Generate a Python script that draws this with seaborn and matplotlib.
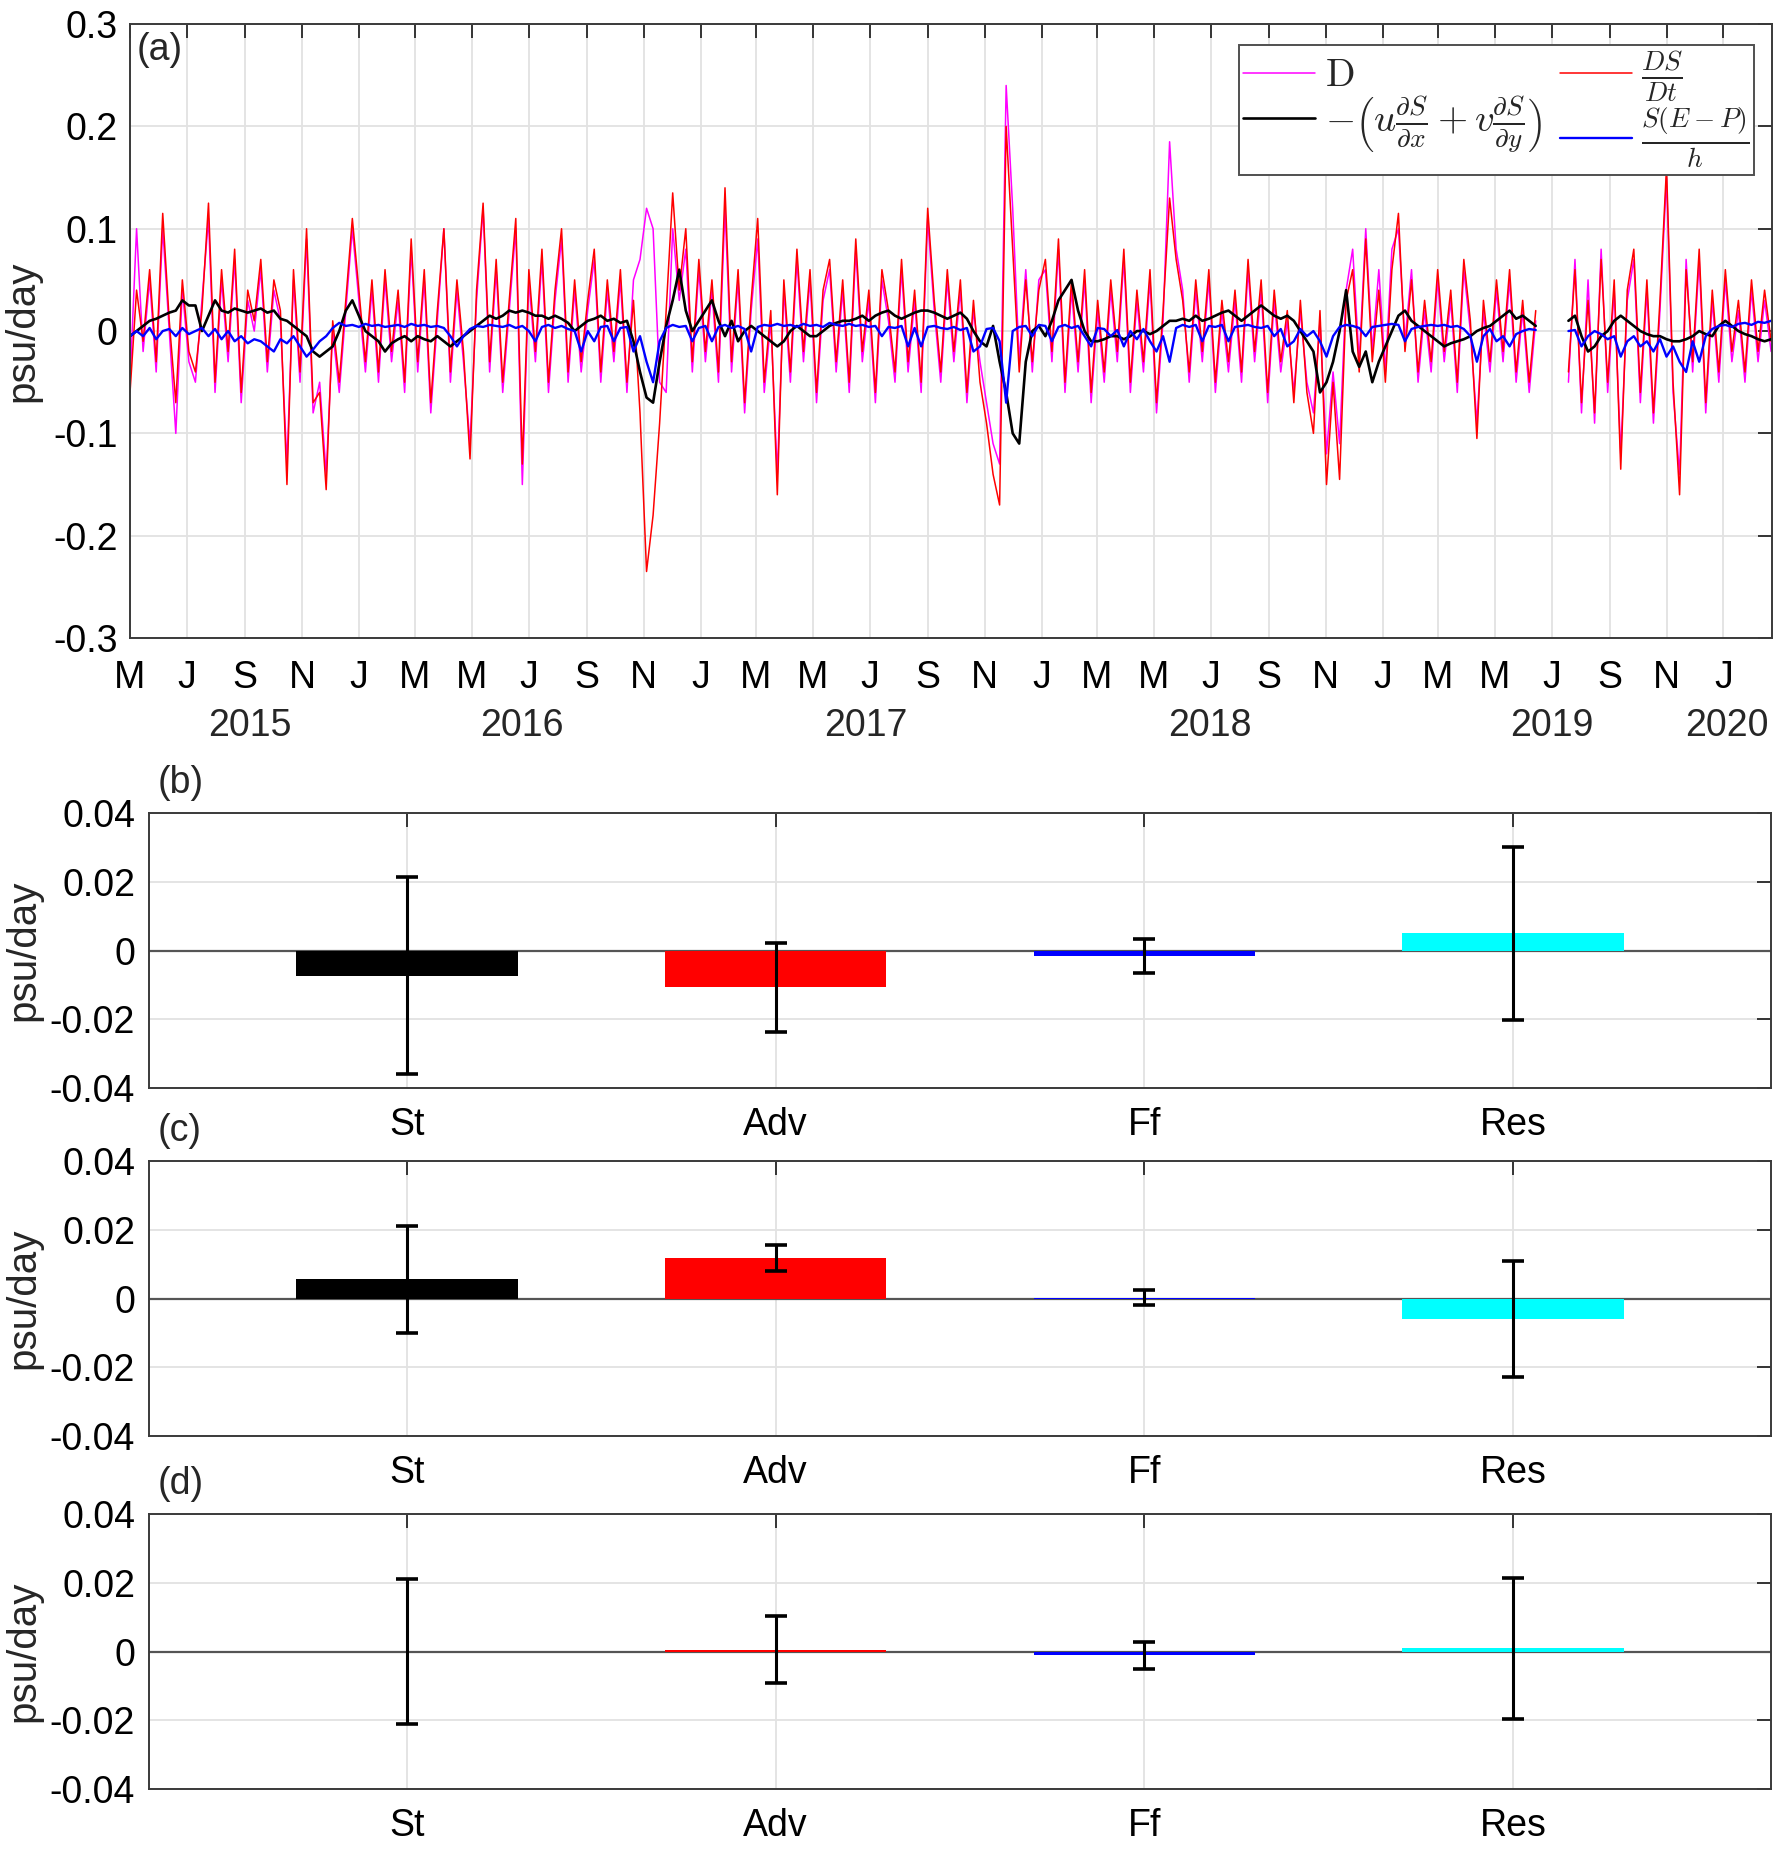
import numpy as np
import pandas as pd
import matplotlib
matplotlib.use('Agg')
import matplotlib.pyplot as plt
import matplotlib.dates as mdates
import matplotlib.transforms as mtransforms
import seaborn as sns

nan = np.nan

# ---- panel (a): weekly values (psu/day), from 2015-05-01 ----
# gap in the record around June-July 2019 is kept as NaN
dsdt = [
    -0.06, 0.04, -0.01, 0.06, -0.03, 0.115, 0.01, -0.07, 0.05, -0.02,
    -0.04, 0.02, 0.125, -0.05, 0.06, -0.02, 0.08, -0.06, 0.04, 0.01,
    0.07, -0.03, 0.05, 0.02, -0.15, 0.06, -0.04, 0.1, -0.07, -0.06,
    -0.155, 0.01, -0.05, 0.03, 0.11, 0.04, -0.03, 0.05, -0.04, 0.06,
    -0.02, 0.04, -0.05, 0.09, -0.03, 0.06, -0.07, 0.02, 0.1, -0.04,
    0.05, -0.02, -0.125, 0.04, 0.125, -0.03, 0.07, -0.05, 0.03, 0.11,
    -0.13, 0.06, -0.02, 0.08, -0.05, 0.04, 0.1, -0.04, 0.05, -0.03,
    0.03, 0.08, -0.04, 0.05, -0.02, 0.06, -0.05, 0.03, -0.08, -0.235,
    -0.18, -0.09, 0.02, 0.135, 0.04, 0.1, -0.03, 0.07, -0.02, 0.05,
    -0.04, 0.14, -0.03, 0.06, -0.07, 0.03, 0.11, -0.05, 0.02, -0.16,
    0.05, -0.04, 0.08, -0.02, 0.06, -0.06, 0.04, 0.07, -0.03, 0.05,
    -0.05, 0.09, -0.02, 0.04, -0.06, 0.06, 0.02, -0.04, 0.07, -0.03,
    0.04, -0.05, 0.12, 0.03, -0.04, 0.06, -0.02, 0.05, -0.06, 0.03,
    -0.05, -0.09, -0.14, -0.17, 0.2, 0.08, -0.04, 0.05, -0.03, 0.04,
    0.07, -0.02, 0.09, -0.05, 0.05, -0.03, 0.06, -0.06, 0.03, -0.04,
    0.05, -0.02, 0.08, -0.05, 0.04, -0.03, 0.06, -0.07, 0.02, 0.13,
    0.07, 0.03, -0.04, 0.05, -0.02, 0.06, -0.05, 0.03, -0.03, 0.04,
    -0.04, 0.07, -0.02, 0.05, -0.06, 0.04, -0.03, 0.02, -0.07, 0.03,
    -0.06, -0.1, 0.02, -0.15, -0.05, -0.145, 0.03, 0.06, -0.04, 0.09,
    -0.03, 0.04, -0.05, 0.06, 0.115, -0.02, 0.05, -0.04, 0.03, -0.03,
    0.06, -0.02, 0.04, -0.05, 0.07, 0.01, -0.105, 0.03, -0.03, 0.05,
    -0.02, 0.06, -0.04, 0.03, -0.05, 0.02, nan, nan, nan, nan,
    -0.04, 0.06, -0.07, 0.03, -0.08, 0.07, -0.05, 0.05, -0.135, 0.04,
    0.08, -0.06, 0.05, -0.08, 0.03, 0.16, -0.05, -0.16, 0.06, -0.03,
    0.08, -0.07, 0.04, -0.04, 0.06, -0.02, 0.03, -0.04, 0.05, -0.02,
    0.04, -0.01,
]

d_term = [
    -0.05, 0.1, -0.02, 0.05, -0.04, 0.1, 0.0, -0.1, 0.04, -0.03,
    -0.05, 0.03, 0.11, -0.06, 0.05, -0.03, 0.07, -0.07, 0.03, 0.0,
    0.06, -0.04, 0.04, 0.01, -0.13, 0.05, -0.05, 0.09, -0.08, -0.05,
    -0.14, 0.0, -0.06, 0.02, 0.1, 0.03, -0.04, 0.04, -0.05, 0.05,
    -0.03, 0.03, -0.06, 0.08, -0.04, 0.05, -0.08, 0.01, 0.1, -0.05,
    0.04, -0.03, -0.11, 0.03, 0.12, -0.04, 0.06, -0.06, 0.02, 0.1,
    -0.15, 0.05, -0.03, 0.07, -0.06, 0.03, 0.09, -0.05, 0.04, -0.04,
    0.02, 0.07, -0.05, 0.04, -0.03, 0.05, -0.06, 0.05, 0.07, 0.12,
    0.1, -0.05, -0.06, 0.1, 0.03, 0.08, -0.04, 0.06, -0.03, 0.04,
    -0.05, 0.12, -0.04, 0.05, -0.08, 0.02, 0.09, -0.06, 0.01, -0.14,
    0.04, -0.05, 0.07, -0.03, 0.05, -0.07, 0.03, 0.06, -0.04, 0.04,
    -0.06, 0.08, -0.03, 0.03, -0.07, 0.05, 0.01, -0.05, 0.06, -0.04,
    0.03, -0.06, 0.11, 0.02, -0.05, 0.05, -0.03, 0.04, -0.07, 0.02,
    -0.03, -0.07, -0.11, -0.13, 0.24, 0.12, -0.03, 0.06, -0.04, 0.05,
    0.06, -0.03, 0.08, -0.06, 0.04, -0.04, 0.05, -0.07, 0.02, -0.05,
    0.04, -0.03, 0.07, -0.06, 0.03, -0.04, 0.05, -0.08, 0.01, 0.185,
    0.08, 0.04, -0.05, 0.04, -0.03, 0.05, -0.06, 0.02, -0.04, 0.03,
    -0.05, 0.06, -0.03, 0.04, -0.07, 0.03, -0.04, 0.01, -0.06, 0.02,
    -0.05, -0.08, 0.01, -0.12, -0.04, -0.11, 0.04, 0.08, -0.03, 0.1,
    -0.02, 0.06, -0.04, 0.08, 0.1, -0.01, 0.06, -0.05, 0.02, -0.04,
    0.05, -0.03, 0.03, -0.06, 0.06, 0.0, -0.09, 0.02, -0.04, 0.04,
    -0.03, 0.05, -0.05, 0.02, -0.06, 0.01, nan, nan, nan, nan,
    -0.05, 0.07, -0.08, 0.05, -0.09, 0.08, -0.06, 0.04, -0.12, 0.03,
    0.07, -0.07, 0.04, -0.09, 0.02, 0.15, -0.06, -0.14, 0.07, -0.04,
    0.07, -0.08, 0.03, -0.05, 0.05, -0.03, 0.02, -0.05, 0.04, -0.03,
    0.03, -0.02,
]

adv = [
    -0.005, 0.0, 0.005, 0.01, 0.012, 0.015, 0.018, 0.02, 0.03, 0.025,
    0.025, 0.0, 0.015, 0.03, 0.02, 0.018, 0.022, 0.02, 0.018, 0.02,
    0.022, 0.018, 0.02, 0.012, 0.01, 0.005, 0.0, -0.005, -0.02, -0.025,
    -0.02, -0.015, 0.0, 0.02, 0.03, 0.015, 0.0, -0.005, -0.01, -0.02,
    -0.012, -0.008, -0.005, -0.01, -0.005, -0.008, -0.01, -0.005, -0.01, -0.015,
    -0.01, -0.005, 0.0, 0.005, 0.01, 0.015, 0.012, 0.015, 0.02, 0.018,
    0.02, 0.018, 0.015, 0.015, 0.012, 0.015, 0.012, 0.008, 0.0, 0.005,
    0.01, 0.012, 0.015, 0.01, 0.012, 0.008, 0.01, -0.01, -0.04, -0.065,
    -0.07, -0.03, 0.005, 0.03, 0.06, 0.02, 0.0, 0.01, 0.02, 0.03,
    0.01, -0.005, 0.01, -0.01, 0.0, 0.005, 0.0, -0.005, -0.01, -0.015,
    -0.01, 0.0, 0.005, 0.0, -0.005, -0.005, 0.0, 0.005, 0.008, 0.01,
    0.01, 0.012, 0.015, 0.01, 0.015, 0.018, 0.02, 0.015, 0.012, 0.015,
    0.018, 0.02, 0.02, 0.018, 0.015, 0.012, 0.015, 0.018, 0.012, 0.0,
    -0.01, -0.015, 0.005, -0.03, -0.06, -0.1, -0.11, -0.03, 0.0, 0.005,
    -0.005, 0.01, 0.03, 0.04, 0.05, 0.02, 0.0, -0.01, -0.01, -0.008,
    -0.005, -0.005, -0.008, -0.005, 0.0, 0.0, -0.003, 0.0, 0.005, 0.01,
    0.01, 0.012, 0.01, 0.015, 0.01, 0.012, 0.015, 0.018, 0.02, 0.015,
    0.01, 0.015, 0.02, 0.025, 0.02, 0.015, 0.012, 0.015, 0.01, 0.0,
    -0.01, -0.02, -0.06, -0.05, -0.03, 0.0, 0.04, -0.02, -0.035, -0.02,
    -0.05, -0.03, -0.015, 0.0, 0.015, 0.02, 0.01, 0.005, 0.0, -0.005,
    -0.01, -0.015, -0.012, -0.01, -0.008, -0.005, 0.0, 0.003, 0.005, 0.01,
    0.015, 0.02, 0.012, 0.015, 0.01, 0.005, nan, nan, nan, nan,
    0.01, 0.015, -0.005, -0.02, -0.015, -0.005, 0.0, 0.01, 0.015, 0.01,
    0.005, 0.0, -0.003, -0.005, -0.005, -0.008, -0.01, -0.01, -0.008, -0.005,
    0.0, -0.003, -0.005, 0.005, 0.01, 0.005, 0.0, -0.003, -0.005, -0.008,
    -0.01, -0.008,
]

fw = [
    -0.005, 0.0, -0.005, 0.003, -0.008, 0.0, 0.002, -0.005, 0.003, -0.003,
    0.0, 0.003, -0.005, 0.002, -0.008, 0.0, -0.01, -0.005, -0.012, -0.008,
    -0.01, -0.015, -0.02, -0.008, -0.012, -0.005, -0.015, -0.025, -0.018, -0.01,
    -0.005, 0.003, 0.008, 0.005, 0.006, 0.004, 0.007, 0.005, 0.006, 0.004,
    0.005, 0.006, 0.004, 0.007, 0.005, 0.006, 0.004, 0.005, 0.003, -0.005,
    -0.015, -0.005, 0.002, 0.005, 0.004, 0.006, 0.005, 0.004, 0.006, 0.003,
    0.005, 0.0, -0.01, 0.004, 0.006, 0.003, 0.005, 0.002, 0.0, -0.02,
    0.0, -0.01, 0.004, 0.005, -0.01, 0.003, 0.004, -0.02, -0.005, -0.03,
    -0.05, -0.01, 0.003, 0.006, 0.004, 0.005, -0.01, 0.003, 0.005, -0.01,
    0.004, 0.006, 0.003, 0.005, 0.002, -0.02, 0.004, 0.006, 0.005, 0.007,
    0.005, 0.006, 0.004, 0.007, 0.005, 0.006, 0.004, 0.008, 0.006, 0.005,
    0.007, 0.005, 0.006, 0.004, 0.005, -0.005, 0.004, 0.003, 0.005, -0.015,
    0.003, -0.015, 0.004, 0.005, 0.003, 0.002, 0.004, 0.001, 0.003, -0.02,
    -0.015, 0.002, 0.003, -0.01, -0.07, 0.0, 0.004, 0.005, -0.005, 0.006,
    0.005, -0.01, 0.004, 0.006, 0.003, 0.005, -0.005, -0.015, 0.003, 0.002,
    -0.005, 0.001, -0.015, 0.0, -0.008, 0.002, -0.01, -0.02, -0.005, -0.03,
    0.003, 0.006, 0.004, 0.006, -0.01, 0.005, 0.004, 0.006, -0.01, 0.004,
    0.005, 0.006, 0.004, 0.003, 0.005, -0.005, 0.002, -0.015, -0.01, 0.002,
    -0.005, 0.0, -0.01, -0.025, -0.005, 0.004, 0.006, 0.005, 0.003, -0.005,
    0.004, 0.005, 0.006, 0.007, 0.006, -0.01, 0.002, 0.004, 0.005, 0.006,
    0.005, 0.006, 0.004, 0.005, 0.002, -0.005, -0.03, -0.005, 0.002, -0.01,
    -0.005, -0.015, -0.003, 0.0, 0.002, 0.001, nan, nan, nan, nan,
    0.0, 0.001, -0.015, -0.005, 0.0, -0.003, -0.008, -0.005, -0.025, -0.01,
    -0.005, -0.015, -0.01, -0.02, -0.008, -0.025, -0.015, -0.03, -0.04, -0.01,
    -0.03, -0.005, 0.002, 0.005, 0.006, 0.004, 0.007, 0.008, 0.006, 0.009,
    0.008, 0.01,
]

D_LABEL = r'$\mathrm{D}$'
ADV_LABEL = r'$-\left(u\frac{\partial S}{\partial x}+v\frac{\partial S}{\partial y}\right)$'
DSDT_LABEL = r'$\frac{DS}{Dt}$'
FW_LABEL = r'$\frac{S(E-P)}{h}$'

MONTH_LABELS = ['M', 'J', 'S', 'N', 'J', 'M',
                'M', 'J', 'S', 'N', 'J', 'M',
                'M', 'J', 'S', 'N', 'J', 'M',
                'M', 'J', 'S', 'N', 'J', 'M',
                'M', 'J', 'S', 'N', 'J']
YEAR_LABELS = ['2015', '2016', '2017', '2018', '2019', '2020']
YEAR_DATES = ['2015-09-06', '2016-06-23', '2017-06-27', '2018-06-30', '2019-07-01', '2020-01-05']

# ---- panels (b)-(d): mean terms and error bars ----
TERMS = ['St', 'Adv', 'Ff', 'Res']
TERM_COLORS = ['#000000', '#ff0000', '#0000ff', '#00ffff']
b_mean = [-0.0073, -0.0107, -0.0016, 0.0050]
b_err = [0.0287, 0.0129, 0.0050, 0.0252]
c_mean = [0.0056, 0.0119, 0.0002, -0.0060]
c_err = [0.0156, 0.0038, 0.0022, 0.0168]
d_mean = [0.0, 0.0005, -0.0011, 0.0009]
d_err = [0.0210, 0.0098, 0.0039, 0.0205]

sns.set_style('white')
plt.rcParams['font.family'] = ['Liberation Sans', 'DejaVu Sans']
plt.rcParams['mathtext.fontset'] = 'cm'
plt.rcParams['axes.edgecolor'] = '#3a3a3a'
plt.rcParams['axes.linewidth'] = 1.4

AX_COLOR = '#262626'
GRID_COLOR = '#e2e2e2'
TICK_FS = 27
LABEL_FS = 29


def style_axis(ax):
    ax.grid(True, color=GRID_COLOR, linewidth=1.3)
    ax.set_axisbelow(True)
    ax.tick_params(direction='in', top=True, right=True, length=10, width=1.3,
                   colors=AX_COLOR, labelsize=TICK_FS, labelcolor='black')


def plot_timeseries(ax):
    dates = pd.date_range('2015-05-01', periods=len(dsdt), freq='7D')
    seg = np.where(dates < pd.Timestamp('2019-07-01'), 0, 1)
    frames = []
    for name, vals in [(D_LABEL, d_term), (DSDT_LABEL, dsdt), (ADV_LABEL, adv), (FW_LABEL, fw)]:
        frames.append(pd.DataFrame({'date': dates, 'value': vals, 'term': name, 'seg': seg}))
    ts = pd.concat(frames, ignore_index=True).dropna()

    palette = {D_LABEL: '#ff00ff', DSDT_LABEL: '#ff0000', ADV_LABEL: '#000000', FW_LABEL: '#0000ff'}
    sizes = {D_LABEL: 1.1, DSDT_LABEL: 1.1, ADV_LABEL: 1.9, FW_LABEL: 1.7}
    sns.lineplot(data=ts, x='date', y='value', hue='term', size='term',
                 hue_order=[D_LABEL, DSDT_LABEL, ADV_LABEL, FW_LABEL],
                 palette=palette, sizes=sizes, units='seg', estimator=None,
                 sort=False, ax=ax)

    leg = ax.get_legend()
    handles = {t.get_text(): h for t, h in zip(leg.get_texts(), leg.legend_handles)}
    leg.remove()
    order = [D_LABEL, ADV_LABEL, DSDT_LABEL, FW_LABEL]
    ax.legend([handles[k] for k in order], order, ncol=2, loc='upper right',
              bbox_to_anchor=(0.989, 0.966), borderaxespad=0, fontsize=28,
              frameon=True, fancybox=False, edgecolor='#505050', framealpha=1,
              handlelength=1.85, columnspacing=0.45, labelspacing=0.0,
              handletextpad=0.25, borderpad=0.12)
    ax.get_legend().get_frame().set_linewidth(1.4)

    ax.set_xlim(pd.Timestamp('2015-05-01'), pd.Timestamp('2020-02-22'))
    ax.set_ylim(-0.3, 0.3)
    ax.set_yticks([-0.3, -0.2, -0.1, 0, 0.1, 0.2, 0.3])
    ax.set_yticklabels(['-0.3', '-0.2', '-0.1', '0', '0.1', '0.2', '0.3'])
    ax.set_xticks(pd.date_range('2015-05-01', '2020-01-01', freq='2MS'))
    ax.set_xticklabels(MONTH_LABELS)
    style_axis(ax)
    ax.tick_params(axis='x', pad=16)
    ax.tick_params(axis='y', pad=9)
    ax.set_xlabel('')
    ax.set_ylabel('psu/day', fontsize=LABEL_FS)
    ax.yaxis.set_label_coords(-0.054, 0.5)

    trans = mtransforms.blended_transform_factory(ax.transData, ax.transAxes)
    for lab, d in zip(YEAR_LABELS, YEAR_DATES):
        ax.text(mdates.date2num(pd.Timestamp(d)), -0.143, lab, transform=trans,
                ha='center', va='center', fontsize=TICK_FS)
    ax.text(0.004, 0.958, '(a)', transform=ax.transAxes, ha='left', va='center',
            fontsize=TICK_FS)


def plot_bars(ax, means, errs, tag):
    df = pd.DataFrame({'term': TERMS, 'value': means})
    ax.axhline(0, color='#555555', linewidth=1.6, zorder=0.9)
    sns.barplot(data=df, x='term', y='value', hue='term', palette=TERM_COLORS,
                errorbar=None, width=0.6, legend=False, saturation=1,
                linewidth=0, edgecolor='none', ax=ax)
    ax.errorbar(range(len(TERMS)), means, yerr=errs, fmt='none', ecolor='black',
                elinewidth=2.2, capsize=8, capthick=2.6, zorder=4)
    ax.set_xlim(-0.7, 3.7)
    ax.set_ylim(-0.04, 0.04)
    ax.set_yticks([-0.04, -0.02, 0, 0.02, 0.04])
    ax.set_yticklabels(['-0.04', '-0.02', '0', '0.02', '0.04'])
    style_axis(ax)
    ax.tick_params(axis='x', pad=14)
    ax.tick_params(axis='y', pad=10)
    ax.set_xlabel('')
    ax.set_ylabel('psu/day', fontsize=LABEL_FS)
    ax.yaxis.set_label_coords(-0.066, 0.5)
    ax.text(0.005, 1.11, tag, transform=ax.transAxes, ha='left', va='center',
            fontsize=TICK_FS)


fig = plt.figure(figsize=(17.74, 18.52), dpi=100)
ax_a = fig.add_axes([0.0733, 0.6555, 0.9256, 0.3315])
ax_b = fig.add_axes([0.0840, 0.4125, 0.9143, 0.1485])
ax_c = fig.add_axes([0.0840, 0.2246, 0.9143, 0.1485])
ax_d = fig.add_axes([0.0840, 0.0340, 0.9143, 0.1485])

plot_timeseries(ax_a)
plot_bars(ax_b, b_mean, b_err, '(b)')
plot_bars(ax_c, c_mean, c_err, '(c)')
plot_bars(ax_d, d_mean, d_err, '(d)')

fig.savefig('out.png', dpi=100)
